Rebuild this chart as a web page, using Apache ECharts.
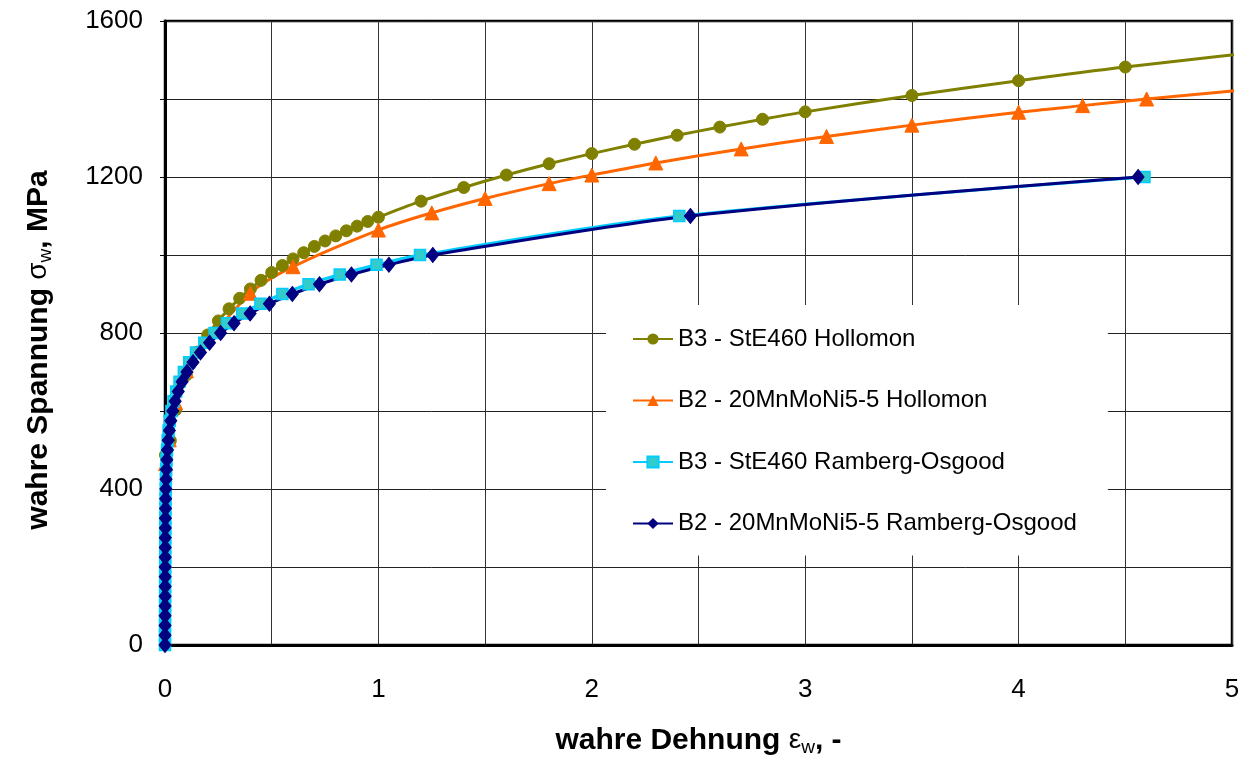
<!DOCTYPE html>
<html>
<head>
<meta charset="utf-8">
<script src="https://cdn.jsdelivr.net/npm/echarts@6/dist/echarts.min.js"></script>
<style>
html,body{margin:0;padding:0;background:#fff;}
#chart{width:1249px;height:762px;}
</style>
</head>
<body>
<div id="chart"></div>
<script>
// ---- data ----
const seriesNames = [
  'B3 - StE460 Hollomon',
  'B2 - 20MnMoNi5-5 Hollomon',
  'B3 - StE460 Ramberg-Osgood',
  'B2 - 20MnMoNi5-5 Ramberg-Osgood'
];

// B3 - StE460 Hollomon
const b3HolStrain = [0.0023, 0.025, 0.05, 0.1, 0.15, 0.2, 0.25, 0.3, 0.35, 0.4, 0.45, 0.5, 0.55, 0.6, 0.65, 0.7, 0.75, 0.8, 0.85, 0.9, 0.95, 1.0, 1.2, 1.4, 1.6, 1.8, 2.0, 2.2, 2.4, 2.6, 2.8, 3.0, 3.5, 4.0, 4.5, 5.5];
const b3HolStress = [487, 524, 603, 692, 751, 795, 831, 862, 889, 913, 935, 955, 973, 990, 1006, 1022, 1036, 1049, 1062, 1074, 1086, 1097, 1138, 1173, 1205, 1234, 1260, 1284, 1307, 1328, 1348, 1367, 1409, 1447, 1482, 1543];

// B2 - 20MnMoNi5-5 Hollomon
const b2HolStrain = [0.0022, 0.02, 0.05, 0.1, 0.4, 0.6, 1.0, 1.25, 1.5, 1.8, 2.0, 2.3, 2.7, 3.1, 3.5, 4.0, 4.3, 4.6, 5.5];
const b2HolStress = [465, 526, 621, 703, 902, 970, 1064, 1108, 1145, 1183, 1205, 1236, 1272, 1304, 1333, 1366, 1383, 1400, 1446];

// Ramberg-Osgood curves: stress levels shared by both
const roStress = [0, 25, 50, 75, 100, 125, 150, 175, 200, 225, 250, 275, 300, 325, 350, 375, 400, 425, 450, 475, 500, 525, 550, 575, 600, 625, 650, 675, 700, 725, 750, 775, 800, 825, 850, 875, 900, 925, 950, 975, 1000, 1100, 1200];

// B3 - StE460 Ramberg-Osgood strains
const b3RoStrain = [0, 0.0001, 0.0002, 0.0004, 0.0005, 0.0006, 0.0007, 0.0008, 0.001, 0.0011, 0.0012, 0.0013, 0.0016, 0.0018, 0.0022, 0.0026, 0.0033, 0.0041, 0.0053, 0.0071, 0.0094, 0.0126, 0.0169, 0.0225, 0.0301, 0.0397, 0.0522, 0.0681, 0.0883, 0.1137, 0.1452, 0.1841, 0.2321, 0.2906, 0.3615, 0.4473, 0.5500, 0.6727, 0.8187, 0.9912, 1.1948, 2.41, 4.59];

// B2 - 20MnMoNi5-5 Ramberg-Osgood strains
const b2RoStrain = [0, 0.0001, 0.0002, 0.0004, 0.0005, 0.0006, 0.0007, 0.0008, 0.001, 0.0011, 0.0012, 0.0013, 0.0016, 0.0019, 0.0024, 0.003, 0.0038, 0.0049, 0.0064, 0.0087, 0.0116, 0.0155, 0.0206, 0.0274, 0.0363, 0.0476, 0.0621, 0.0802, 0.1030, 0.1314, 0.1662, 0.2088, 0.2607, 0.3234, 0.3989, 0.4892, 0.5966, 0.7237, 0.8735, 1.0492, 1.2548, 2.462, 4.56];

const xTickLabels = ['0', '1', '2', '3', '4', '5'];
const yTickLabels = ['0', '400', '800', '1200', '1600'];

// ---- build ----
function zip(xs, ys) { return xs.map((x, i) => [x, ys[i]]); }
const FONT = '"Liberation Sans", Arial, sans-serif';

const chart = echarts.init(document.getElementById('chart'), null, {renderer: 'canvas'});

const titleRich = {
  b: {fontSize: 30, fontWeight: 'bold', color: '#000', fontFamily: FONT},
  r: {fontSize: 28, color: '#000', fontFamily: FONT},
  s: {fontSize: 19, color: '#000', fontFamily: FONT, verticalAlign: 'bottom', padding: [14, 0, 0, 0]}
};

const option = {
  backgroundColor: '#ffffff',
  animation: false,
  textStyle: {fontFamily: FONT},
  grid: {
    left: 165, right: 17, top: 21, bottom: 117,
    show: true, borderColor: '#000', borderWidth: 2.5, backgroundColor: 'transparent'
  },
  legend: {
    orient: 'vertical',
    left: 606, top: 305,
    padding: [22, 31, 20, 26],
    itemGap: 37.5,
    itemWidth: 40, itemHeight: 14,
    backgroundColor: '#ffffff',
    textStyle: {fontFamily: FONT, fontSize: 24, color: '#000'},
    data: seriesNames
  },
  xAxis: {
    type: 'value', min: 0, max: 5, interval: 0.5,
    axisLine: {show: true, onZero: false, lineStyle: {color: '#000', width: 3}},
    axisTick: {show: false},
    splitLine: {show: true, lineStyle: {color: '#333', width: 1}},
    axisLabel: {
      margin: 32, fontSize: 26, color: '#000', fontFamily: FONT,
      formatter: v => { const i = xTickLabels.indexOf(String(v)); return i >= 0 ? xTickLabels[i] : ''; }
    },
    name: '{b|wahre Dehnung }{r|ε}{s|w}{b|, -}',
    nameLocation: 'middle', nameGap: 79,
    nameTextStyle: {rich: titleRich}
  },
  yAxis: {
    type: 'value', min: 0, max: 1600, interval: 200,
    axisLine: {show: true, onZero: false, lineStyle: {color: '#000', width: 3}},
    axisTick: {show: true, inside: false, length: 5, lineStyle: {color: '#000', width: 1}},
    splitLine: {show: true, lineStyle: {color: '#222', width: 1}},
    axisLabel: {
      margin: 22, fontSize: 26, color: '#000', fontFamily: FONT,
      formatter: v => { const i = yTickLabels.indexOf(String(v)); return i >= 0 ? yTickLabels[i] : ''; }
    },
    name: '{b|wahre Spannung }{r|σ}{s|w}{b|, MPa}',
    nameLocation: 'middle', nameGap: 110, nameRotate: 90,
    nameTextStyle: {rich: titleRich, padding: [0, 34, 0, 0]}
  },
  series: [
    {
      name: seriesNames[0], type: 'line', smooth: 0.3, clip: true,
      data: zip(b3HolStrain, b3HolStress),
      symbol: 'circle', symbolSize: 12,
      lineStyle: {color: '#808000', width: 3},
      itemStyle: {color: '#808000', borderColor: '#808000'}
    },
    {
      name: seriesNames[1], type: 'line', smooth: 0.3, clip: true,
      data: zip(b2HolStrain, b2HolStress),
      symbol: 'triangle', symbolSize: 14,
      lineStyle: {color: '#FF6600', width: 3},
      itemStyle: {color: '#FF6600', borderColor: '#FF6600'}
    },
    {
      name: seriesNames[2], type: 'line', smooth: 0.3, clip: true,
      data: zip(b3RoStrain, roStress),
      symbol: 'rect', symbolSize: 11,
      lineStyle: {color: '#00CCFF', width: 3},
      itemStyle: {color: '#33CCCC', borderColor: '#00CCFF', borderWidth: 1.5}
    },
    {
      name: seriesNames[3], type: 'line', smooth: 0.3, clip: true,
      data: zip(b2RoStrain, roStress),
      symbol: 'diamond', symbolSize: [12, 15],
      lineStyle: {color: '#000080', width: 3},
      itemStyle: {color: '#000080', borderColor: '#000080'}
    }
  ]
};
chart.setOption(option);
</script>
</body>
</html>
